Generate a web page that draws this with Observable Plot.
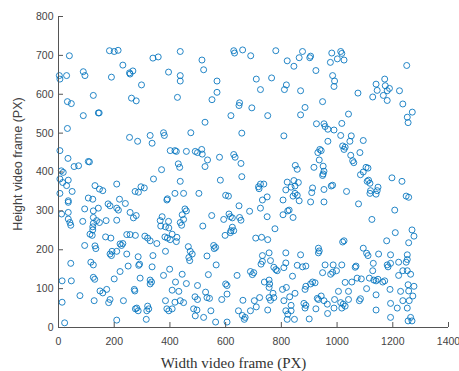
<!DOCTYPE html>
<html>
<head>
<meta charset="utf-8">
<script src="https://cdn.jsdelivr.net/npm/d3@7"></script>
<script src="https://cdn.jsdelivr.net/npm/@observablehq/plot@0.6"></script>
<style>
  html, body { margin: 0; padding: 0; background: #fff; }
</style>
</head>
<body>
<div id="chart"></div>
<script>
// Frame positions (px): width coordinate and height coordinate of each detection
const widthPx = [
  // upper band
  39,3,5,29,89,95,183,200,214,190,231,255,257,267,298,339,358,395,32,46,125,262,279,89,143,146,
  437,437,437,427,515,521,569,569,551,629,632,661,690,650,648,694,619,526,710,725,765,780,821,845,818,811,751,
  876,864,902,905,924,981,976,1013,1017,1001,1025,984,991,989,869,948,1075,1140,1171,1173,1144,1188,1180,1128,1166,1180,1224,1236,1250,885,869,1041,1252,1270,
  // middle band
  32,255,284,329,336,377,380,5,34,56,72,107,111,10,17,370,341,5,15,35,29,49,209,131,147,159,296,308,287,275,5,107,123,219,240,178,185,391,389,35,35,94,125,143,209,215,257,279,269,372,365,395,11,35,35,41,87,125,137,147,171,209,
  475,658,809,401,418,423,459,491,499,514,516,535,526,578,629,634,655,430,435,658,581,437,718,725,737,720,821,835,816,849,842,418,449,504,600,610,749,732,725,806,828,648,686,454,459,444,449,550,612,617,624,650,655,593,749,806,823,
  926,953,957,967,989,1017,1255,1013,1051,967,1046,1094,938,943,931,1020,1029,1025,1082,1049,1056,1060,936,917,950,953,950,948,850,857,1104,1111,1094,1084,1113,1118,1108,984,979,1034,1120,1144,1147,1118,1140,1197,1233,1248,1257,845,861,849,912,909,953,857,864,905,953,1077,1207,1125,842,
  // lower band
  44,125,123,113,121,123,94,131,134,169,188,221,226,231,245,257,276,310,320,329,353,367,384,396,382,391,401,185,190,192,209,245,286,339,384,44,116,125,250,288,291,336,399,221,200,125,130,13,46,293,329,334,329,377,77,149,159,173,128,185,180,233,272,274,13,281,286,276,320,324,317,384,389,396,408,315,209,22,
  437,442,518,624,619,629,617,598,708,729,751,777,408,425,423,466,473,480,468,471,557,564,559,533,566,538,641,732,756,761,732,727,816,816,809,773,780,785,689,696,701,739,756,758,444,420,459,408,432,499,528,533,542,600,605,605,586,449,490,499,485,497,521,491,547,564,605,646,660,667,670,689,662,703,722,710,756,756,773,770,761,751,804,818,830,809,816,823,821,835,835,418,437,
  1025,1020,1209,1269,1276,1178,1257,933,936,933,1094,1106,1111,1149,1192,1252,1252,1248,869,857,876,888,957,986,998,977,948,1017,1068,1065,1130,1128,1180,1183,1192,1221,1236,1221,1252,1264,840,885,888,905,912,921,849,984,1029,1053,1072,1087,1116,1132,1140,1147,1164,1171,1106,1005,1041,1084,1080,1140,1190,1228,1255,1257,1276,1272,1259,1252,1264,1269,1255,929,933,943,953,991,965,1013,1022,1017,1029,881,888,885,924,847,989,1041,1192,1192,1216,1140,1236,900,966
];
const heightPx = [
  // upper band
  699,648,639,648,658,648,712,710,713,644,675,655,652,660,624,693,696,657,581,576,597,590,583,545,552,552,
  710,648,634,592,688,663,634,605,586,712,706,714,699,578,571,565,545,528,639,612,642,712,686,672,624,612,545,
  710,694,694,698,661,706,682,710,705,691,688,648,634,620,609,581,603,626,639,622,610,615,609,593,597,584,609,575,674,566,547,549,541,554,
  // middle band
  512,489,479,494,474,501,494,455,435,414,416,427,426,403,399,406,382,382,373,379,365,350,369,365,356,352,362,359,348,350,345,333,330,330,319,318,313,331,328,326,322,305,300,307,307,302,296,288,282,285,275,273,292,296,279,270,273,283,275,270,275,276,
  501,500,493,455,455,453,453,453,450,458,446,431,414,438,445,438,422,421,412,388,379,376,362,369,369,357,374,361,354,345,338,345,345,345,340,338,336,328,307,328,302,313,299,305,300,290,278,288,292,285,282,283,276,278,285,290,300,
  524,524,517,510,508,525,527,494,493,479,479,481,458,455,450,467,464,458,450,443,429,424,431,412,415,402,395,391,417,407,412,410,400,393,379,371,376,366,364,350,352,352,361,345,343,385,376,338,335,378,373,364,359,347,355,340,326,323,323,318,302,278,283,
  // lower band
  263,268,259,240,237,251,211,210,203,233,230,215,211,216,239,239,237,235,230,223,216,261,259,256,233,230,226,189,185,196,196,189,182,185,196,165,168,161,158,160,163,156,150,144,125,129,124,120,120,127,122,117,112,134,82,94,89,98,69,72,64,69,98,94,65,50,43,48,55,48,43,69,48,43,48,21,19,12,
  270,263,261,258,249,249,244,237,230,232,226,254,240,232,221,208,196,189,180,172,211,206,203,184,161,136,134,185,192,172,170,163,192,166,154,155,149,146,144,136,141,117,122,112,137,117,113,96,93,108,91,77,75,112,108,86,72,64,79,72,48,45,26,30,43,14,14,43,31,21,26,43,70,69,77,53,103,77,77,88,70,45,98,103,79,69,43,34,21,57,43,65,69,
  223,220,244,251,235,223,218,204,197,192,204,191,185,189,187,187,175,168,187,160,156,158,161,161,146,137,141,161,158,155,165,146,161,156,165,168,146,134,146,137,132,98,106,112,117,115,88,142,116,117,127,125,127,122,120,124,117,120,100,93,93,74,69,84,98,93,110,94,106,81,69,50,26,17,17,75,72,81,69,72,60,64,60,50,55,62,57,50,48,21,50,72,26,62,50,45,69,22,36
];

const xTicks = [0, 200, 400, 600, 800, 1000, 1200, 1400];
const yTicks = [0, 100, 200, 300, 400, 500, 600, 700, 800];
const xTitle = "Width video frame (PX)";
const yTitle = "Height video frame (PX)";

const frames = widthPx.map((w, i) => ({w, h: heightPx[i]}));

const W = 459, H = 371;
const mL = 58, mR = 11, mT = 16, mB = 44;
const innerW = W - mL - mR, innerH = H - mT - mB;
const tickLen = 5;
const axisColor = "#555";
const plain = d => String(d);

const chart = Plot.plot({
  width: W,
  height: H,
  marginLeft: mL,
  marginRight: mR,
  marginTop: mT,
  marginBottom: mB,
  style: {
    fontFamily: "'Liberation Sans', Arial, sans-serif",
    fontSize: "10.5px",
    color: "#444",
    background: "#fff"
  },
  x: {domain: [0, 1400]},
  y: {domain: [0, 800]},
  marks: [
    Plot.dot(frames, {x: "w", y: "h", r: 3, stroke: "#0072BD", strokeWidth: 1, strokeOpacity: 0.85, fill: "none"}),
    // axis lines and inward tick marks
    Plot.ruleY([0], {stroke: axisColor}),
    Plot.ruleX([0], {stroke: axisColor}),
    Plot.tickX(xTicks, {x: d => d, insetTop: innerH - tickLen, stroke: axisColor}),
    Plot.tickY(yTicks, {y: d => d, insetRight: innerW - tickLen, stroke: axisColor}),
    Plot.axisX({ticks: xTicks, tickFormat: plain, tickSize: 0, tickPadding: 10, label: null, fill: "#444"}),
    Plot.axisY({ticks: yTicks, tickFormat: plain, tickSize: 0, tickPadding: 5, label: null, fill: "#444"}),
    // axis titles
    Plot.text([xTitle], {
      text: d => d, frameAnchor: "bottom", textAnchor: "middle", lineAnchor: "middle", dy: 36, dx: -20,
      fontFamily: "'Liberation Serif', 'Times New Roman', serif", fontSize: 15, fill: "#333"
    }),
    Plot.text([yTitle], {
      text: d => d, frameAnchor: "left", textAnchor: "middle", rotate: -90, lineAnchor: "middle", dx: -41, dy: -8,
      fontFamily: "'Liberation Sans', Arial, sans-serif", fontSize: 12.5, fill: "#444"
    })
  ]
});

document.getElementById("chart").appendChild(chart);
</script>
</body>
</html>
